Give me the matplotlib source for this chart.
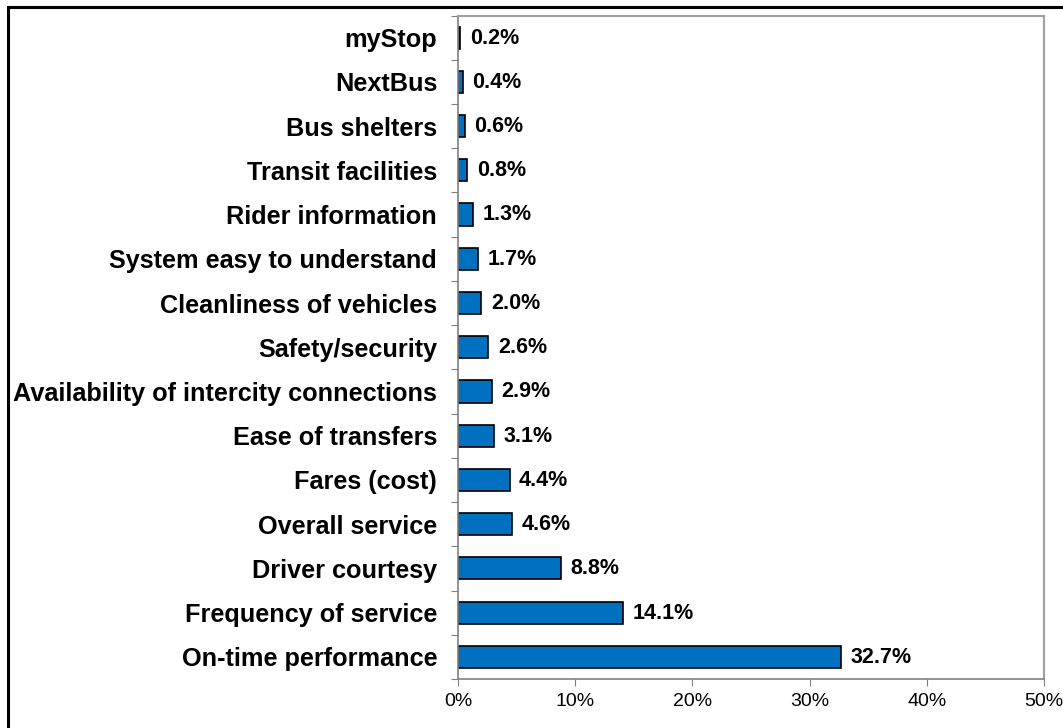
import matplotlib.pyplot as plt
from matplotlib.patches import Rectangle
from matplotlib.ticker import FuncFormatter, FixedLocator

categories = [
    "On-time performance", "Frequency of service", "Driver courtesy",
    "Overall service", "Fares (cost)", "Ease of transfers",
    "Availability of intercity connections", "Safety/security",
    "Cleanliness of vehicles", "System easy to understand",
    "Rider information", "Transit facilities", "Bus shelters",
    "NextBus", "myStop",
]
shares = [32.7, 14.1, 8.8, 4.6, 4.4, 3.1, 2.9, 2.6, 2.0, 1.7, 1.3, 0.8, 0.6, 0.4, 0.2]
x_ticks = [0, 10, 20, 30, 40, 50]

plt.rcParams['font.family'] = ['Liberation Sans', 'DejaVu Sans']

fig = plt.figure(figsize=(10.63, 7.28), dpi=100)
ax = fig.add_axes([458 / 1063, 1 - 679 / 728, (1044 - 458) / 1063, (679 - 15.5) / 728])

pos = list(range(len(categories)))
ax.barh(pos, shares, height=0.5, color="#0070C0", edgecolor="black", linewidth=1.2)

for y, v in zip(pos, shares):
    ax.text(v + 0.8, y - 0.01, f"{v:.1f}%", va="center", ha="left",
            fontsize=15.5, fontweight="bold")

ax.set_xlim(0, 50)
ax.set_ylim(-0.5, len(categories) - 0.5)
ax.set_xticks(x_ticks)
ax.xaxis.set_major_formatter(FuncFormatter(lambda v, _: f"{v:.0f}%"))
ax.tick_params(axis="x", labelsize=14, length=5, color="#808080", pad=5)

# category names as minor labels, tick marks between categories
ax.yaxis.set_major_locator(FixedLocator([p - 0.5 for p in pos] + [len(pos) - 0.5]))
ax.set_yticklabels([])
ax.set_yticks(pos, minor=True)
ax.set_yticklabels(categories, minor=True, fontsize=18.2, fontweight="bold")
ax.tick_params(axis="y", which="major", length=5, color="#808080")
ax.tick_params(axis="y", which="minor", length=0, pad=15)

for side in ["left", "bottom"]:
    ax.spines[side].set_color("#808080")
    ax.spines[side].set_linewidth(1.2)
for side in ["top", "right"]:
    ax.spines[side].set_color("#a0a0a0")
    ax.spines[side].set_linewidth(1.5)

# outer frame
fig.patches.append(Rectangle((7.5 / 1063, -0.1), 1.2, 1 - 7.5 / 728 + 0.1,
                             transform=fig.transFigure, fill=False,
                             edgecolor="black", linewidth=2.2))

fig.savefig("out.png", dpi=100)
